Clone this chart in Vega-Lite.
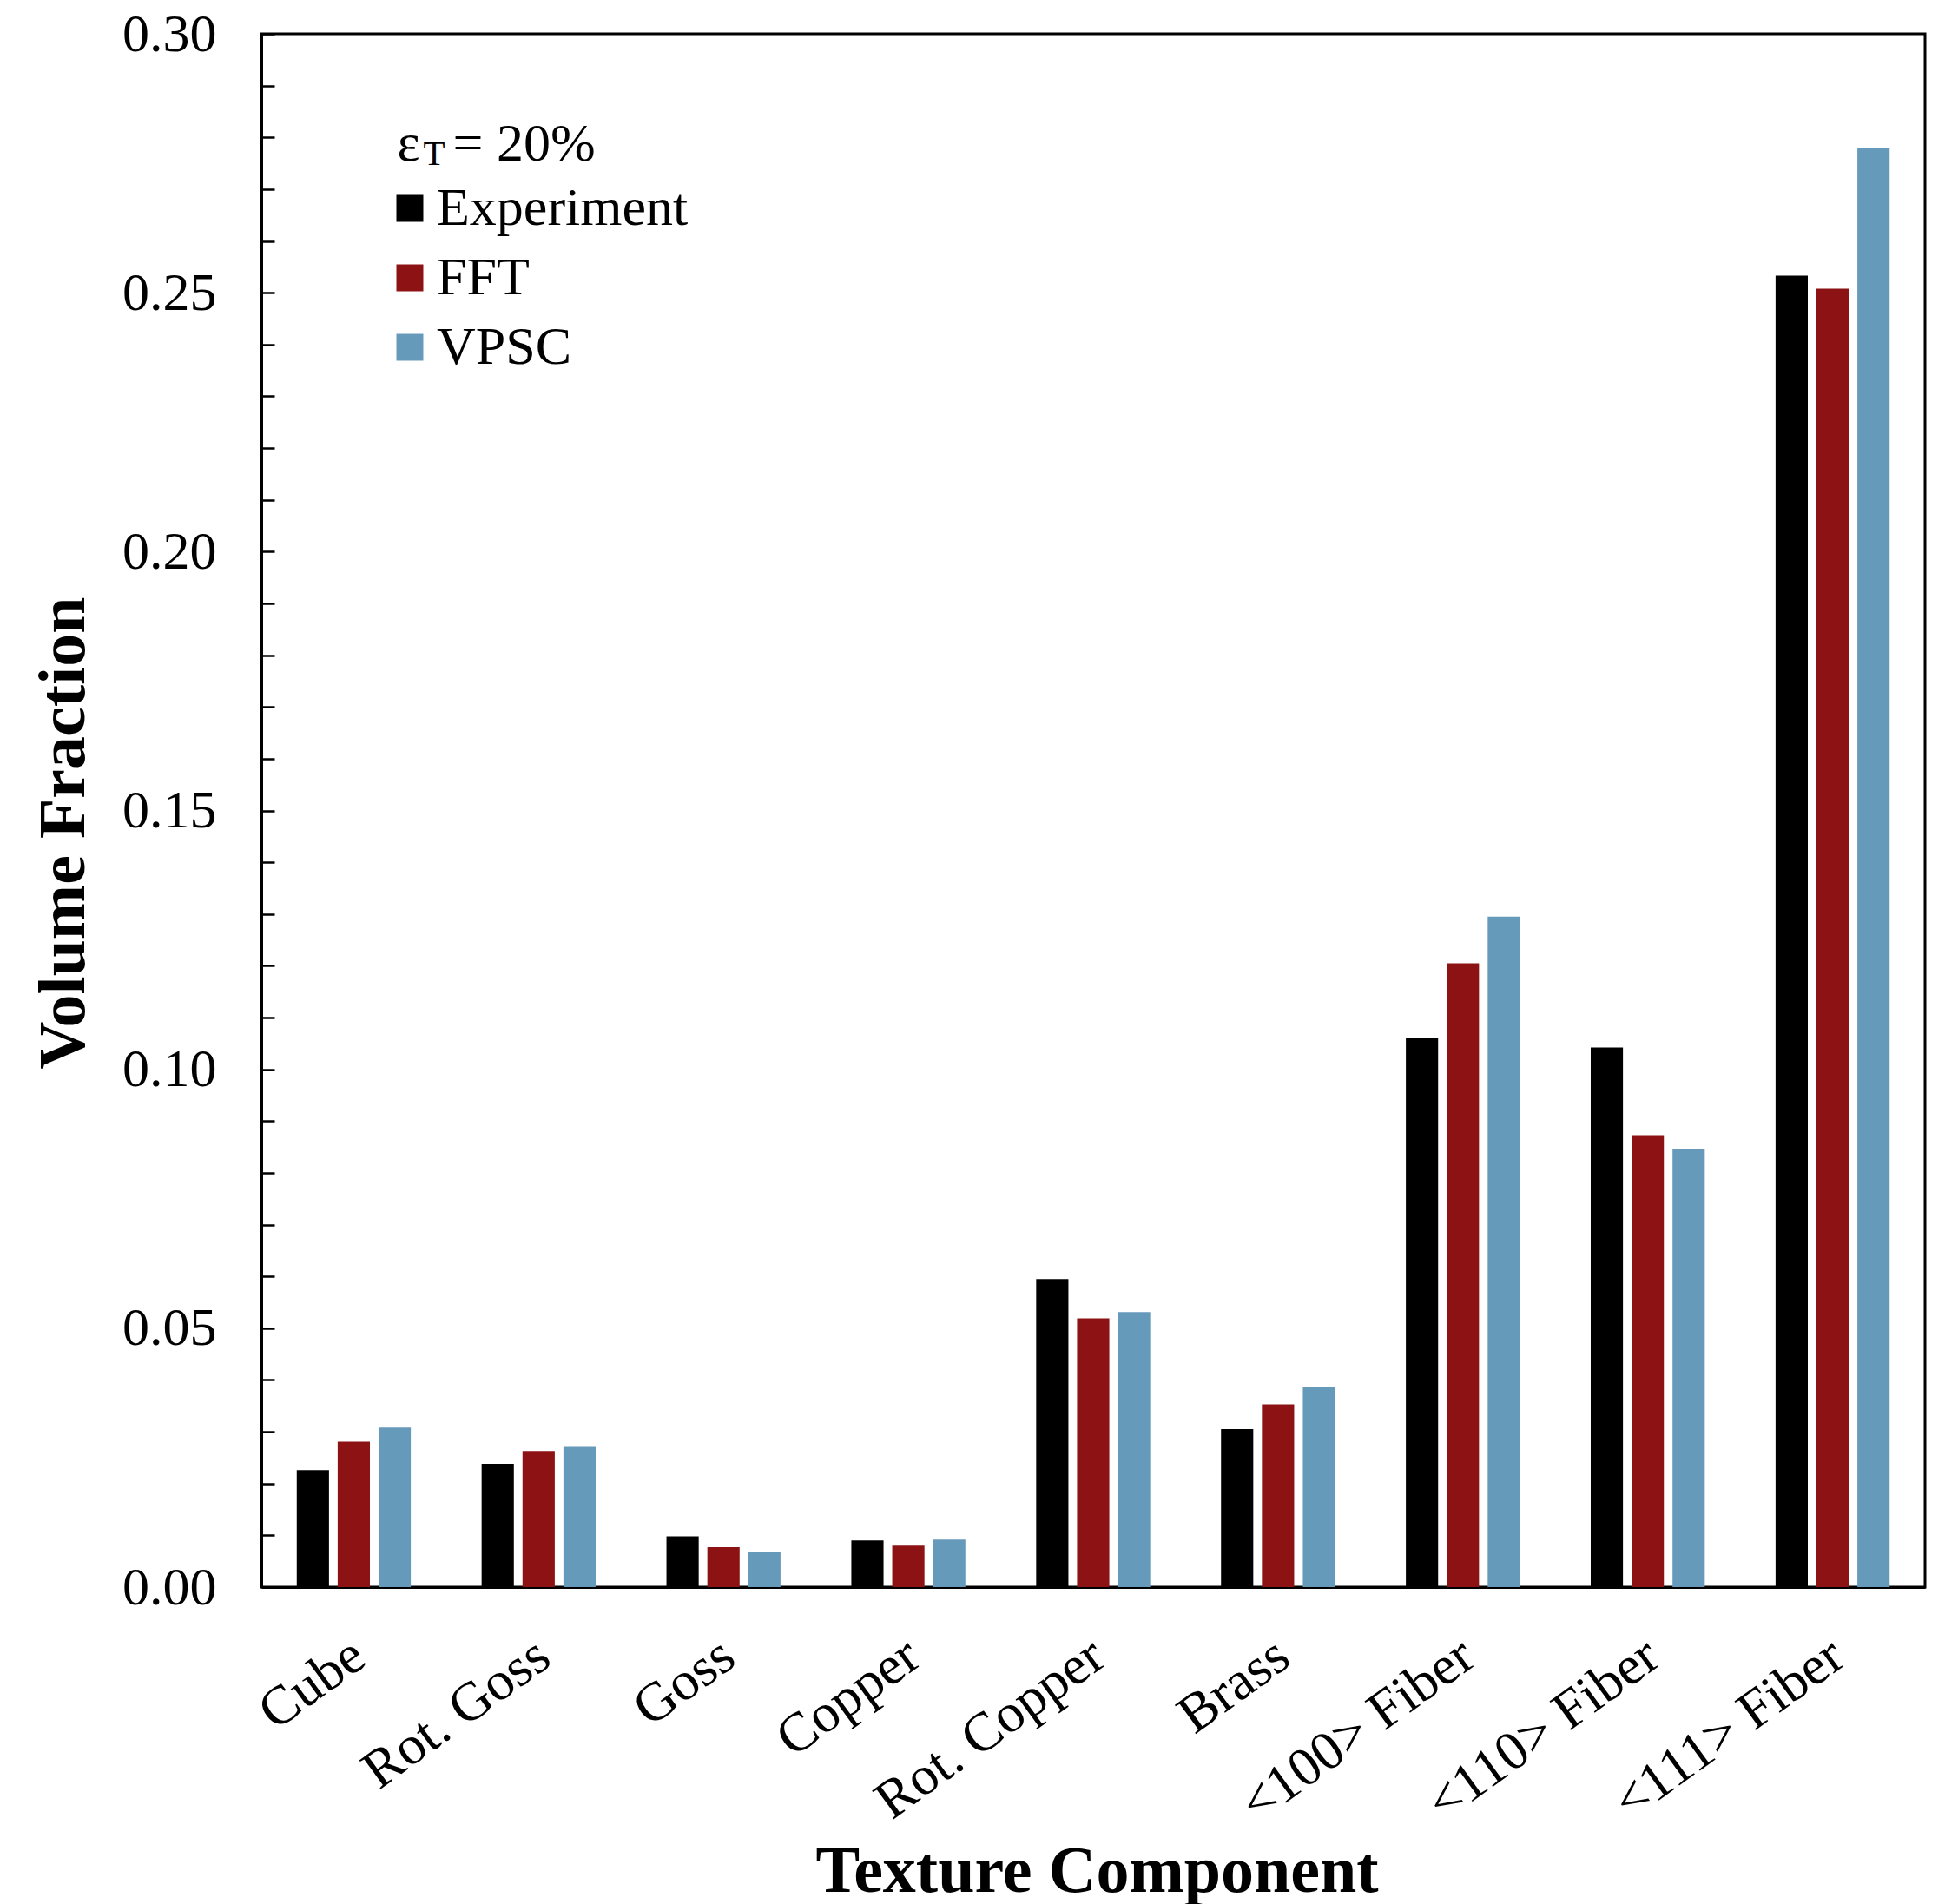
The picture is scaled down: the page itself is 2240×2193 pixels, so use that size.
{
  "$schema": "https://vega.github.io/schema/vega-lite/v6.json",
  "width": 1916,
  "height": 1789,
  "autosize": {"type": "none"},
  "padding": {"left": 301, "top": 39, "right": 23, "bottom": 365},
  "background": "white",
  "config": {
    "font": "Liberation Serif",
    "view": {"stroke": "black", "strokeWidth": 3}
  },
  "datasets": {
    "fractions": [
      {"component": "Cube", "model": "Experiment", "value": 0.0226},
      {"component": "Cube", "model": "FFT", "value": 0.0281},
      {"component": "Cube", "model": "VPSC", "value": 0.0308},
      {"component": "Rot. Goss", "model": "Experiment", "value": 0.0238},
      {"component": "Rot. Goss", "model": "FFT", "value": 0.0263},
      {"component": "Rot. Goss", "model": "VPSC", "value": 0.0271},
      {"component": "Goss", "model": "Experiment", "value": 0.0098},
      {"component": "Goss", "model": "FFT", "value": 0.0077},
      {"component": "Goss", "model": "VPSC", "value": 0.0068},
      {"component": "Copper", "model": "Experiment", "value": 0.0090},
      {"component": "Copper", "model": "FFT", "value": 0.0080},
      {"component": "Copper", "model": "VPSC", "value": 0.0092},
      {"component": "Rot. Copper", "model": "Experiment", "value": 0.0595},
      {"component": "Rot. Copper", "model": "FFT", "value": 0.0519},
      {"component": "Rot. Copper", "model": "VPSC", "value": 0.0531},
      {"component": "Brass", "model": "Experiment", "value": 0.0305},
      {"component": "Brass", "model": "FFT", "value": 0.0353},
      {"component": "Brass", "model": "VPSC", "value": 0.0386},
      {"component": "<100> Fiber", "model": "Experiment", "value": 0.1060},
      {"component": "<100> Fiber", "model": "FFT", "value": 0.1205},
      {"component": "<100> Fiber", "model": "VPSC", "value": 0.1295},
      {"component": "<110> Fiber", "model": "Experiment", "value": 0.1042},
      {"component": "<110> Fiber", "model": "FFT", "value": 0.0873},
      {"component": "<110> Fiber", "model": "VPSC", "value": 0.0847},
      {"component": "<111> Fiber", "model": "Experiment", "value": 0.2533},
      {"component": "<111> Fiber", "model": "FFT", "value": 0.2508},
      {"component": "<111> Fiber", "model": "VPSC", "value": 0.2779}
    ],
    "strain": [{"label": "total strain"}]
  },
  "layer": [
    {
      "data": {"name": "fractions"},
      "mark": {"type": "bar"},
      "encoding": {
        "x": {
          "field": "component",
          "type": "nominal",
          "sort": ["Cube", "Rot. Goss", "Goss", "Copper", "Rot. Copper", "Brass", "<100> Fiber", "<110> Fiber", "<111> Fiber"],
          "scale": {"paddingInner": 0.383, "paddingOuter": 0.1915},
          "axis": {
            "title": "Texture Component",
            "titleFont": "Liberation Serif",
            "titleFontSize": 76,
            "titleFontWeight": "bold",
            "titleColor": "black",
            "titleX": 962,
            "titleY": 350,
            "titleAlign": "center",
            "titleBaseline": "alphabetic",
            "labelFont": "Liberation Serif",
            "labelFontSize": 63,
            "labelColor": "black",
            "labelAngle": -36,
            "labelAlign": "right",
            "labelBaseline": "middle",
            "labelPadding": 72,
            "labelOffset": 6,
            "labelLimit": 0,
            "labelOverlap": false,
            "ticks": false,
            "domainColor": "black",
            "domainWidth": 3
          }
        },
        "xOffset": {
          "field": "model",
          "sort": ["Experiment", "FFT", "VPSC"],
          "scale": {"paddingInner": 0.212, "paddingOuter": 0}
        },
        "y": {
          "field": "value",
          "type": "quantitative",
          "scale": {"domain": [0, 0.3], "nice": false, "zero": true},
          "axis": {
            "title": "Volume Fraction",
            "titleFont": "Liberation Serif",
            "titleFontSize": 76,
            "titleFontWeight": "bold",
            "titleColor": "black",
            "titleAngle": -90,
            "titleX": -205,
            "titleY": 920,
            "titleAlign": "center",
            "titleBaseline": "alphabetic",
            "values": [0, 0.01, 0.02, 0.03, 0.04, 0.05, 0.06, 0.07, 0.08, 0.09, 0.1, 0.11, 0.12, 0.13, 0.14, 0.15, 0.16, 0.17, 0.18, 0.19, 0.2, 0.21, 0.22, 0.23, 0.24, 0.25, 0.26, 0.27, 0.28, 0.29, 0.3],
            "labelExpr": "round(datum.value * 100) % 5 == 0 ? format(datum.value, '.2f') : ''",
            "labelFont": "Liberation Serif",
            "labelFontSize": 62,
            "labelColor": "black",
            "labelPadding": 67,
            "labelOverlap": false,
            "tickSize": -15,
            "tickWidth": 2.5,
            "tickColor": "black",
            "grid": false,
            "domainColor": "black",
            "domainWidth": 3
          }
        },
        "color": {
          "field": "model",
          "type": "nominal",
          "scale": {
            "domain": ["Experiment", "FFT", "VPSC"],
            "range": ["#000000", "#8C1214", "#669ABA"]
          },
          "legend": {
            "title": null,
            "orient": "none",
            "legendX": 140,
            "legendY": 170,
            "padding": 0,
            "symbolType": "square",
            "symbolSize": 961,
            "symbolStrokeWidth": 0,
            "symbolOpacity": 1,
            "labelFont": "Liberation Serif",
            "labelFontSize": 62,
            "labelColor": "black",
            "labelOffset": 0,
            "labelLimit": 0,
            "rowPadding": 18
          }
        }
      }
    },
    {
      "data": {"name": "strain"},
      "mark": {"type": "text", "text": "ε", "align": "left", "baseline": "alphabetic", "font": "Liberation Serif", "fontSize": 62, "color": "black", "dx": 50},
      "encoding": {"x": {"datum": "Cube"}, "y": {"datum": 0.2755}}
    },
    {
      "data": {"name": "strain"},
      "mark": {"type": "text", "text": "T", "align": "left", "baseline": "alphabetic", "font": "Liberation Serif", "fontSize": 41, "color": "black", "dx": 80, "dy": 5},
      "encoding": {"x": {"datum": "Cube"}, "y": {"datum": 0.2755}}
    },
    {
      "data": {"name": "strain"},
      "mark": {"type": "text", "text": "= 20%", "align": "left", "baseline": "alphabetic", "font": "Liberation Serif", "fontSize": 62, "color": "black", "dx": 114},
      "encoding": {"x": {"datum": "Cube"}, "y": {"datum": 0.2755}}
    }
  ]
}
